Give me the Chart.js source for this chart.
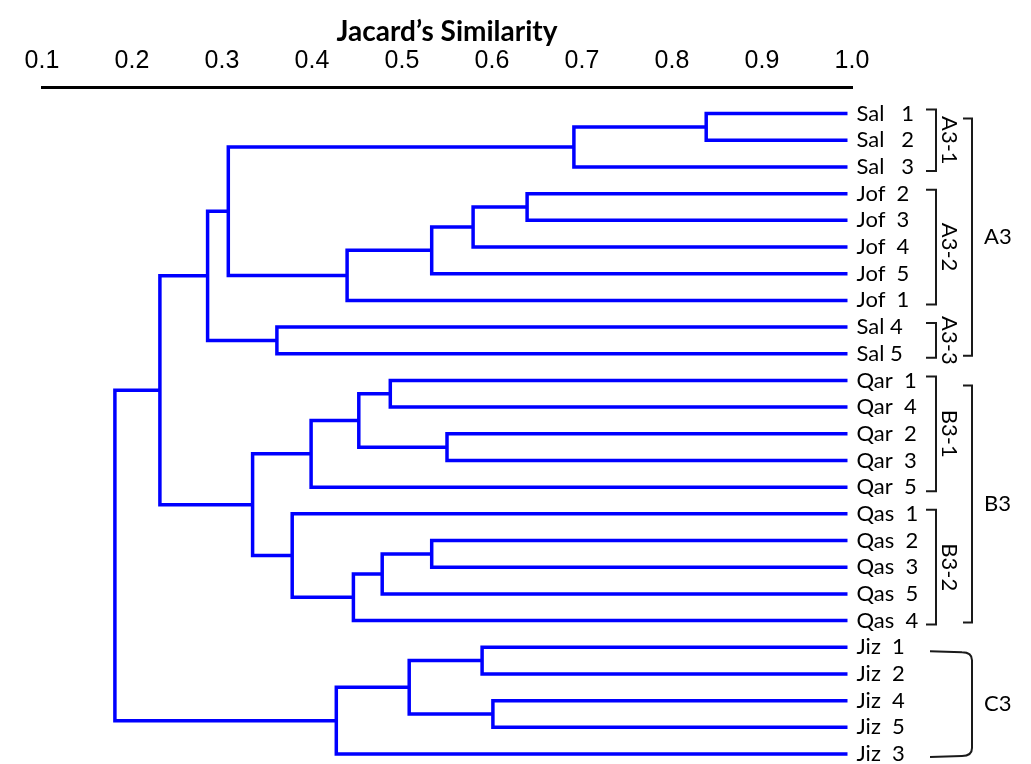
<!DOCTYPE html>
<html>
<head>
<meta charset="utf-8">
<title>Jacard's Similarity dendrogram</title>
<script src="https://cdn.jsdelivr.net/npm/chart.js@4.4.0/dist/chart.umd.min.js"></script>
<style>
  html, body { margin: 0; padding: 0; background: #fff; }
  #wrap { width: 1031px; height: 764px; }
</style>
</head>
<body>
<div id="wrap"><canvas id="dendro" width="1031" height="764"></canvas></div>
<script>
// leaves, top to bottom
const leafNames = [
    'Sal   1', 'Sal   2', 'Sal   3',
    'Jof  2', 'Jof  3', 'Jof  4', 'Jof  5', 'Jof  1',
    'Sal 4', 'Sal 5',
    'Qar  1', 'Qar  4', 'Qar  2', 'Qar  3', 'Qar  5',
    'Qas  1', 'Qas  2', 'Qas  3', 'Qas  5', 'Qas  4',
    'Jiz  1', 'Jiz  2', 'Jiz  4', 'Jiz  5', 'Jiz  3'
];
const leafSimilarity = 0.995;

// merges: ids below 25 are leaves, merge k becomes node 25 + k
const mergeLeft = [0, 25, 3, 27, 28, 29, 26, 8, 31, 10, 12, 34, 36, 16, 38, 39, 15, 37, 33, 20, 22, 44, 46, 43];
const mergeRight = [1, 2, 4, 5, 6, 7, 30, 9, 32, 11, 13, 35, 14, 17, 18, 19, 40, 41, 42, 21, 23, 45, 24, 47];
const mergeSimilarity = [0.838, 0.691, 0.639, 0.579, 0.533, 0.439, 0.307, 0.361, 0.284,
    0.487, 0.550, 0.452, 0.399, 0.533, 0.478, 0.446, 0.378, 0.334, 0.231,
    0.589, 0.601, 0.508, 0.427, 0.181];

const tickLabels = ['0.1', '0.2', '0.3', '0.4', '0.5', '0.6', '0.7', '0.8', '0.9', '1.0'];

// cluster brackets on the right
const groupNames = ['A3-1', 'A3-2', 'A3-3', 'A3', 'B3-1', 'B3-2', 'B3', 'C3'];
const groupFirst = [0, 3, 8, 0, 10, 15, 10, 20];
const groupLast = [2, 7, 9, 9, 14, 19, 19, 24];
const groupOuter = [false, false, false, true, false, false, true, true];

// node coordinates (similarity, leaf row)
const nodeX = leafNames.map(() => leafSimilarity);
const nodeY = leafNames.map((_, i) => i);
mergeLeft.forEach((l, k) => {
    const r = mergeRight[k];
    nodeX.push(mergeSimilarity[k]);
    nodeY.push((nodeY[l] + nodeY[r]) / 2);
});

const datasets = mergeLeft.map((l, k) => {
    const r = mergeRight[k];
    const s = mergeSimilarity[k];
    return {
        data: [
            { x: nodeX[l], y: nodeY[l] },
            { x: s, y: nodeY[l] },
            { x: s, y: nodeY[r] },
            { x: nodeX[r], y: nodeY[r] }
        ],
        showLine: true,
        borderColor: '#0000ff',
        borderWidth: 3.5,
        borderJoinStyle: 'miter',
        borderCapStyle: 'butt',
        pointRadius: 0,
        tension: 0
    };
});

const labelFont = '22px Lato, "Open Sans", sans-serif';

const leafLabels = {
    id: 'leafLabels',
    afterDatasetsDraw(chart) {
        const { ctx, scales: { x, y } } = chart;
        ctx.save();
        ctx.font = labelFont;
        ctx.fillStyle = '#000';
        ctx.textAlign = 'left';
        ctx.textBaseline = 'middle';
        const lx = x.getPixelForValue(leafSimilarity) + 9;
        leafNames.forEach((name, i) => {
            ctx.fillText(name, lx, y.getPixelForValue(i));
        });
        ctx.restore();
    }
};

const brackets = {
    id: 'brackets',
    afterDatasetsDraw(chart) {
        const { ctx, chartArea, scales: { y } } = chart;
        ctx.save();
        ctx.strokeStyle = '#1a1a1a';
        ctx.lineWidth = 2;
        ctx.fillStyle = '#000';
        ctx.font = labelFont;
        groupNames.forEach((name, g) => {
            const top0 = y.getPixelForValue(groupFirst[g]);
            const bot0 = y.getPixelForValue(groupLast[g]);
            if (!groupOuter[g]) {
                const xr = chartArea.right + 84;
                const top = top0 - 4, bot = bot0 + 4;
                ctx.beginPath();
                ctx.moveTo(xr - 10, top);
                ctx.lineTo(xr, top);
                ctx.lineTo(xr, bot);
                ctx.lineTo(xr - 10, bot);
                ctx.stroke();
                ctx.save();
                ctx.translate(xr + 13, (top + bot) / 2);
                ctx.rotate(Math.PI / 2);
                ctx.textAlign = 'center';
                ctx.textBaseline = 'middle';
                ctx.fillText(name, 0, 0);
                ctx.restore();
            } else {
                const xr = chartArea.right + 120;
                const top = top0 + 5, bot = bot0 + 2;
                // outer group without inner brackets gets long rounded arms
                const hasInner = groupNames.some((_, h) => !groupOuter[h] &&
                    groupFirst[h] >= groupFirst[g] && groupLast[h] <= groupLast[g]);
                ctx.beginPath();
                if (hasInner) {
                    ctx.moveTo(xr - 9, top);
                    ctx.lineTo(xr, top);
                    ctx.lineTo(xr, bot);
                    ctx.lineTo(xr - 9, bot);
                } else {
                    ctx.moveTo(xr - 42, top - 1);
                    ctx.lineTo(xr - 10, top);
                    ctx.quadraticCurveTo(xr, top, xr, top + 8);
                    ctx.lineTo(xr, bot - 8);
                    ctx.quadraticCurveTo(xr, bot, xr - 10, bot);
                    ctx.lineTo(xr - 42, bot + 1);
                }
                ctx.stroke();
                ctx.textAlign = 'left';
                ctx.textBaseline = 'middle';
                ctx.fillText(name, xr + 12, (top + bot) / 2);
            }
        });
        ctx.restore();
    }
};

new Chart(document.getElementById('dendro'), {
    type: 'scatter',
    data: { datasets },
    options: {
        responsive: false,
        animation: false,
        layout: { padding: { left: 42, right: 179, top: 6, bottom: 4 } },
        plugins: {
            legend: { display: false },
            tooltip: { enabled: false },
            title: {
                display: true,
                text: 'Jacard’s Similarity',
                color: '#000',
                font: { family: 'Lato, "Open Sans", sans-serif', size: 28, weight: 'bold', lineHeight: 1.2 },
                // the axis box keeps tick padding above the labels too, pull it up under the title
                padding: { top: 9, bottom: -13 }
            }
        },
        scales: {
            x: {
                type: 'linear',
                position: 'top',
                min: 0.1,
                max: 1.0,
                afterBuildTicks: scale => {
                    scale.ticks = tickLabels.map(t => ({ value: parseFloat(t) }));
                },
                ticks: {
                    callback: (value, index) => tickLabels[index],
                    font: { family: '"Liberation Sans", Arial, sans-serif', size: 25 },
                    color: '#000',
                    padding: 11,
                    maxRotation: 0,
                    autoSkip: false
                },
                grid: { display: false, drawTicks: false },
                border: { display: true, color: '#000', width: 3 }
            },
            y: {
                type: 'linear',
                reverse: true,
                min: -0.975,
                max: 24.225,
                display: false
            }
        }
    },
    plugins: [leafLabels, brackets]
});
</script>
</body>
</html>
